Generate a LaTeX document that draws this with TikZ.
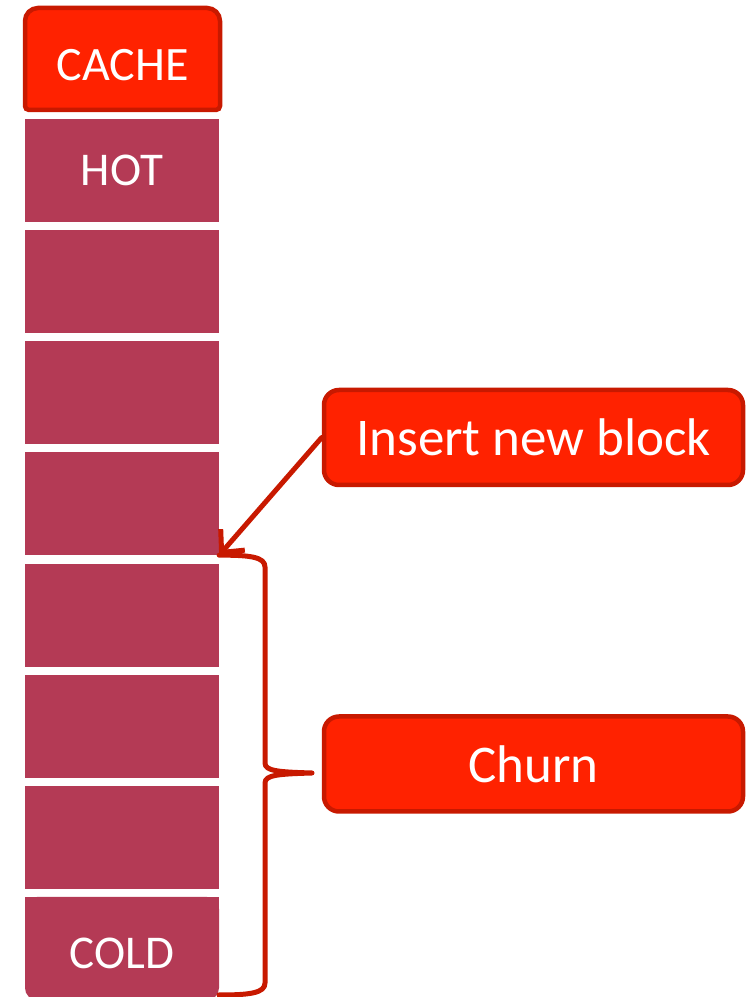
\documentclass[tikz,border=0pt]{standalone}
\usepackage{fontspec}
\setmainfont{Carlito}
\usetikzlibrary{arrows.meta}
\definecolor{blockcol}{RGB}{180,58,85}
\definecolor{boxfill}{RGB}{255,34,0}
\definecolor{boxline}{RGB}{200,25,0}
\tikzset{
  blk/.style={minimum width=194pt, minimum height=103pt, inner sep=0pt,
    text=white, font=\fontsize{47}{56}\selectfont},
  blkfill/.style={fill=blockcol},
  callout/.style={draw=boxline, line width=4.5pt, fill=boxfill, rounded corners=15pt,
    minimum width=419pt, minimum height=95pt, inner sep=0pt,
    text=white, font=\fontsize{53}{63}\selectfont},
  link/.style={draw=boxline, line width=5pt, line cap=round, line join=round},
}
\begin{document}
\begin{tikzpicture}[x=1pt,y=1pt]
\useasboundingbox (0,0) rectangle (753,997);

% cache header with rounded top corners
\draw[boxline, line width=4.5pt, fill=boxfill]
  (29,887) -- (216,887) arc(-90:0:4) -- (220,976) arc(0:90:13)
  -- (38,989) arc(90:180:13) -- (25,891) arc(180:270:4) -- cycle;
\node[blk, text height=44pt, font=\fontsize{48}{58}\selectfont] (cache) at (122.5,938) {CACHE};

% stack of blocks, hottest on top
\node[blk, blkfill] (b0) at (122,826.5) {HOT};
\node[blk, blkfill] (b1) at (122,715.5) {};
\node[blk, blkfill] (b2) at (122,604.5) {};
\node[blk, blkfill] (b3) at (122,493.5) {};
\node[blk, blkfill] (b4) at (122,381.5) {};
\node[blk, blkfill] (b5) at (122,270.5) {};
\node[blk, blkfill] (b6) at (122,159.5) {};
% coldest block: rounded bottom corners
\fill[blockcol, rounded corners=12pt] (25,-3) rectangle (219,100);
\fill[blockcol] (25,50) rectangle (219,100);
\node[blk, text height=40pt] (b7) at (122,48.5) {COLD};

% callouts
\node[callout] (insert) at (533.5,559.5) {Insert new block};
\node[callout] (churn) at (533.5,233) {Churn};

% insertion arrow
\draw[link, -{Straight Barb[length=17pt, width=32pt, line width=5pt]}]
  (insert.west) -- (b3.south east);

% brace spanning the churn region
\coordinate (tip) at (312,224);
\coordinate (bend) at (219,2);
\draw[link]
  (b3.south east) .. controls (250,442) and (265,440) .. (265,430)
  -- (265,234) .. controls (265,226) and (278,225) .. (tip)
  .. controls (278,223) and (265,222) .. (265,214)
  -- (265,14) .. controls (265,4) and (250,2) .. (bend);
\end{tikzpicture}
\end{document}
